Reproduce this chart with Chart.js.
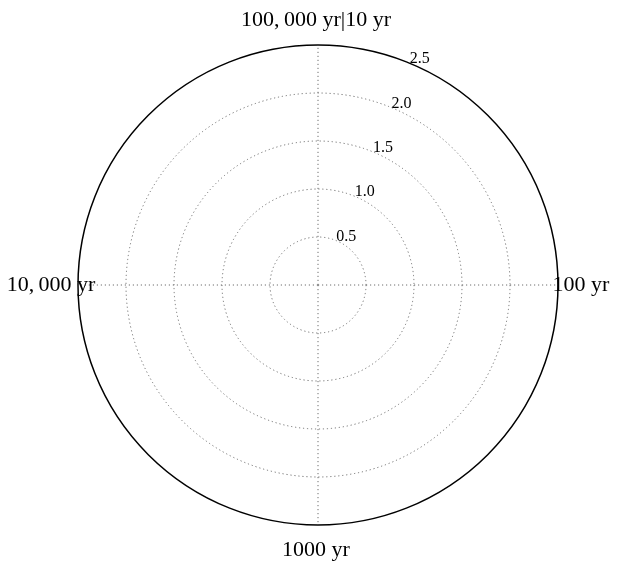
<!DOCTYPE html>
<html lang="en">
<head>
  <meta charset="UTF-8" />
  <title>Polar grid</title>
  <script src="https://cdn.jsdelivr.net/npm/chart.js"></script>
  <style>
    html, body {
      margin: 0;
      padding: 0;
      background: #ffffff;
    }
    .chart-wrapper {
      width: 619px;
      height: 569px;
      position: relative;
    }
  </style>
</head>
<body>
  <div class="chart-wrapper">
    <canvas id="polarChart"></canvas>
  </div>

  <script>
    // angular categories (clockwise from top) and radial ticks
    const categories = ["100,\u2009000 yr|10 yr", "100 yr", "1000 yr", "10,\u2009000 yr"];
    const radialTicks = [0.5, 1.0, 1.5, 2.0, 2.5];
    const seriesValues = [];

    const serif = "'Liberation Serif', 'DejaVu Serif', serif";

    // draws the angular labels centred just outside the rim and the r tick labels at 22.5 deg
    const polarLabels = {
      id: 'polarLabels',
      afterDraw(chart) {
        const scale = chart.scales.r;
        const ctx = chart.ctx;
        ctx.save();
        ctx.fillStyle = '#000';

        ctx.font = '22px ' + serif;
        ctx.textAlign = 'center';
        ctx.textBaseline = 'middle';
        categories.forEach((label, i) => {
          const p = scale.getPointPosition(i, scale.drawingArea + 25);
          ctx.fillText(label, p.x - 2, p.y);
        });

        ctx.font = '16px ' + serif;
        ctx.textAlign = 'left';
        ctx.textBaseline = 'alphabetic';
        const ang = 22.5 * Math.PI / 180;
        radialTicks.forEach(v => {
          const d = scale.getDistanceFromCenterForValue(v);
          const x = scale.xCenter + d * Math.sin(ang);
          const y = scale.yCenter - d * Math.cos(ang);
          ctx.fillText(v.toFixed(1), x, y);
        });
        ctx.restore();
      }
    };

    new Chart(document.getElementById('polarChart'), {
      type: 'radar',
      data: {
        labels: categories,
        datasets: [{
          data: seriesValues,
          borderWidth: 0,
          pointRadius: 0
        }]
      },
      options: {
        responsive: true,
        maintainAspectRatio: false,
        animation: false,
        layout: {
          padding: { top: 45, bottom: 44, left: 78, right: 61 }
        },
        plugins: {
          legend: { display: false },
          tooltip: { enabled: false }
        },
        scales: {
          r: {
            min: 0,
            max: 2.5,
            ticks: { display: false, stepSize: 0.5 },
            pointLabels: { display: false },
            grid: {
              circular: true,
              color: ctx => ctx.tick && ctx.tick.value === 2.5 ? '#000' : '#6e6e6e',
              lineWidth: ctx => ctx.tick && ctx.tick.value === 2.5 ? 1.5 : 1
            },
            border: {
              dash: ctx => ctx.tick && ctx.tick.value === 2.5 ? [] : [1.2, 2.8]
            },
            angleLines: {
              color: '#6e6e6e',
              lineWidth: 1,
              borderDash: [1.2, 2.8]
            }
          }
        }
      },
      plugins: [polarLabels]
    });
  </script>
</body>
</html>
